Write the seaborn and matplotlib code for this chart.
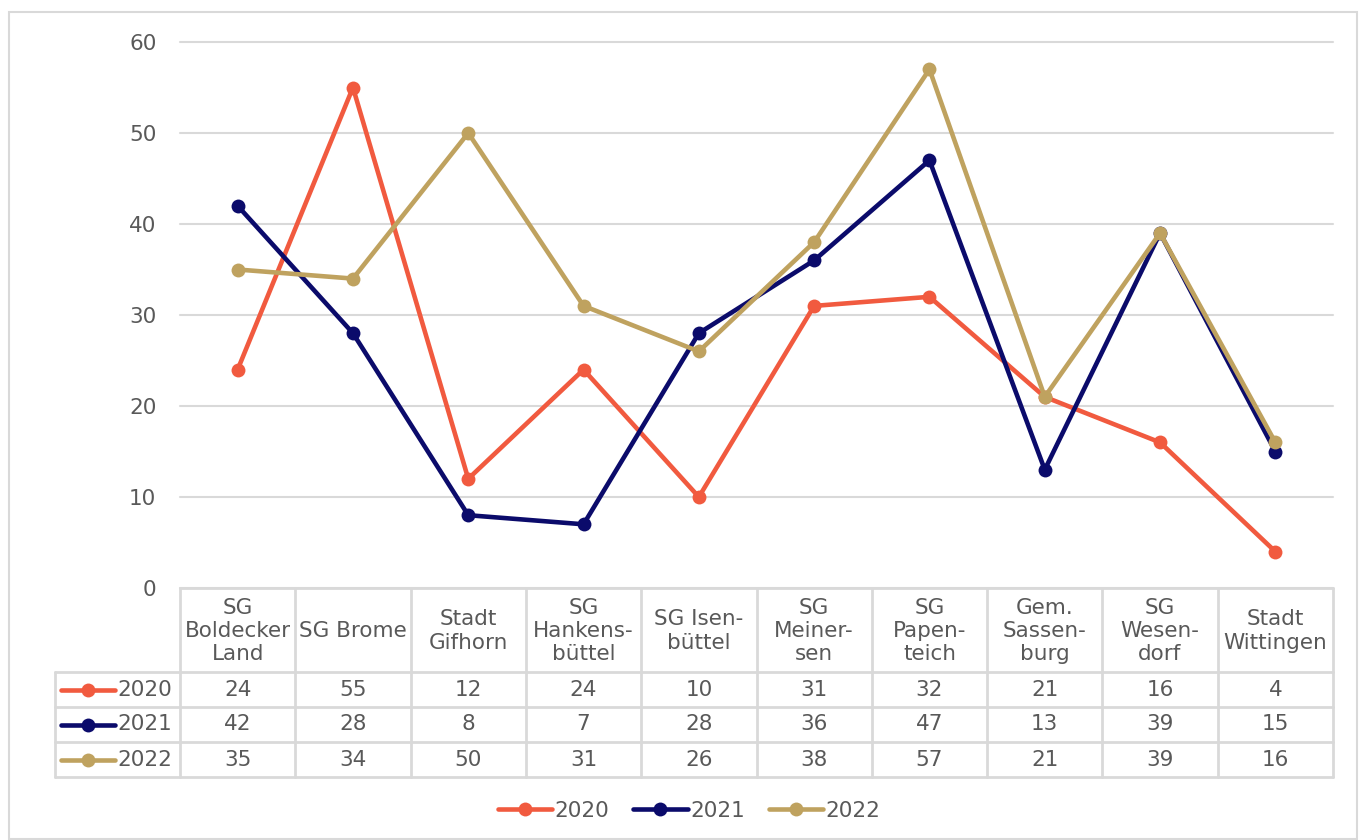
import pandas as pd
import matplotlib.pyplot as plt
import seaborn as sns
from matplotlib.lines import Line2D
from matplotlib.patches import Rectangle

# Data
categories = ["SG\nBoldecker\nLand", "SG Brome", "Stadt\nGifhorn", "SG\nHankens-\nbüttel",
              "SG Isen-\nbüttel", "SG\nMeiner-\nsen", "SG\nPapen-\nteich", "Gem.\nSassen-\nburg",
              "SG\nWesen-\ndorf", "Stadt\nWittingen"]
years = ["2020", "2021", "2022"]
v2020 = [24, 55, 12, 24, 10, 31, 32, 21, 16, 4]
v2021 = [42, 28, 8, 7, 28, 36, 47, 13, 39, 15]
v2022 = [35, 34, 50, 31, 26, 38, 57, 21, 39, 16]
colors = {"2020": "#F15A3F", "2021": "#0B0B6B", "2022": "#BFA25F"}

series = {"2020": v2020, "2021": v2021, "2022": v2022}
rows = []
for y in years:
    for i, v in enumerate(series[y]):
        rows.append({"idx": i, "value": v, "year": y})
df = pd.DataFrame(rows)

sns.set_style("white")
plt.rcParams['font.family'] = ['DejaVu Sans']
txt = "#595959"
grid = "#D9D9D9"
fs = 15.5
lw = 3.3
ms = 10

W, H = 1366, 840
fig = plt.figure(figsize=(W / 100, H / 100), dpi=100)

def fx(px):
    return px / W

def fy(py):
    return 1 - py / H

# outer chart border
fig.patches.append(Rectangle((fx(9), fy(839)), fx(1357) - fx(9), fy(12) - fy(839),
                             transform=fig.transFigure, fill=False, edgecolor=grid, lw=1.5))

x0, x1, ytop, ybot = 180, 1333, 42, 588
ax = fig.add_axes([fx(x0), fy(ybot), fx(x1) - fx(x0), fy(ytop) - fy(ybot)])
sns.lineplot(data=df, x="idx", y="value", hue="year", palette=colors, marker="o",
             markersize=ms, markeredgewidth=0, linewidth=lw, sort=False, ax=ax, legend=False)
ax.set_xlim(-0.5, len(categories) - 0.5)
ax.set_ylim(0, 60)
ax.set_yticks(range(0, 61, 10))
ax.set_xticks([])
ax.set_xlabel("")
ax.set_ylabel("")
for s in ax.spines.values():
    s.set_visible(False)
ax.yaxis.grid(True, color=grid, lw=1.5)
for gl in ax.yaxis.get_gridlines():
    gl.set_clip_on(False)
ax.set_axisbelow(True)
ax.tick_params(axis="y", length=0, pad=17, labelsize=fs, labelcolor=txt)

# data table
colw = (x1 - x0) / len(categories)
hdr_top, hdr_bot = 588, 672
rowh = 35
line_kw = dict(color=grid, lw=2, transform=fig.transFigure)
fig.add_artist(Line2D([fx(x0), fx(x1)], [fy(hdr_top)] * 2, **line_kw))
for r in range(4):
    yy = hdr_bot + r * rowh
    fig.add_artist(Line2D([fx(55), fx(x1)], [fy(yy)] * 2, **line_kw))
yend = hdr_bot + 3 * rowh
for c in range(len(categories) + 1):
    xx = x0 + c * colw
    fig.add_artist(Line2D([fx(xx)] * 2, [fy(hdr_top), fy(yend)], **line_kw))
fig.add_artist(Line2D([fx(55)] * 2, [fy(hdr_bot), fy(yend)], **line_kw))

for c, cat in enumerate(categories):
    cx = x0 + (c + 0.5) * colw
    fig.text(fx(cx), fy((hdr_top + hdr_bot) / 2 + 1), cat, ha="center", va="center",
             fontsize=fs, color=txt, linespacing=1.2)
for r, y in enumerate(years):
    cy = hdr_bot + (r + 0.5) * rowh
    fig.add_artist(Line2D([fx(61), fx(88), fx(115)], [fy(cy)] * 3, color=colors[y], lw=lw,
                          marker="o", markevery=[1], markersize=ms, markeredgewidth=0,
                          transform=fig.transFigure))
    fig.text(fx(117), fy(cy), y, ha="left", va="center", fontsize=fs, color=txt)
    for c, v in enumerate(series[y]):
        cx = x0 + (c + 0.5) * colw
        fig.text(fx(cx), fy(cy), str(v), ha="center", va="center", fontsize=fs, color=txt)

# bottom legend
handles = [Line2D([0], [0], color=colors[y], lw=lw, marker="o", markersize=ms,
                  markeredgewidth=0) for y in years]
leg = fig.legend(handles, years, loc="center", bbox_to_anchor=(fx(689), fy(811)), ncol=3,
                 frameon=False, fontsize=fs, handlelength=2.55, handletextpad=0.1,
                 columnspacing=1.1)
for t in leg.get_texts():
    t.set_color(txt)

fig.savefig("out.png", dpi=100)
